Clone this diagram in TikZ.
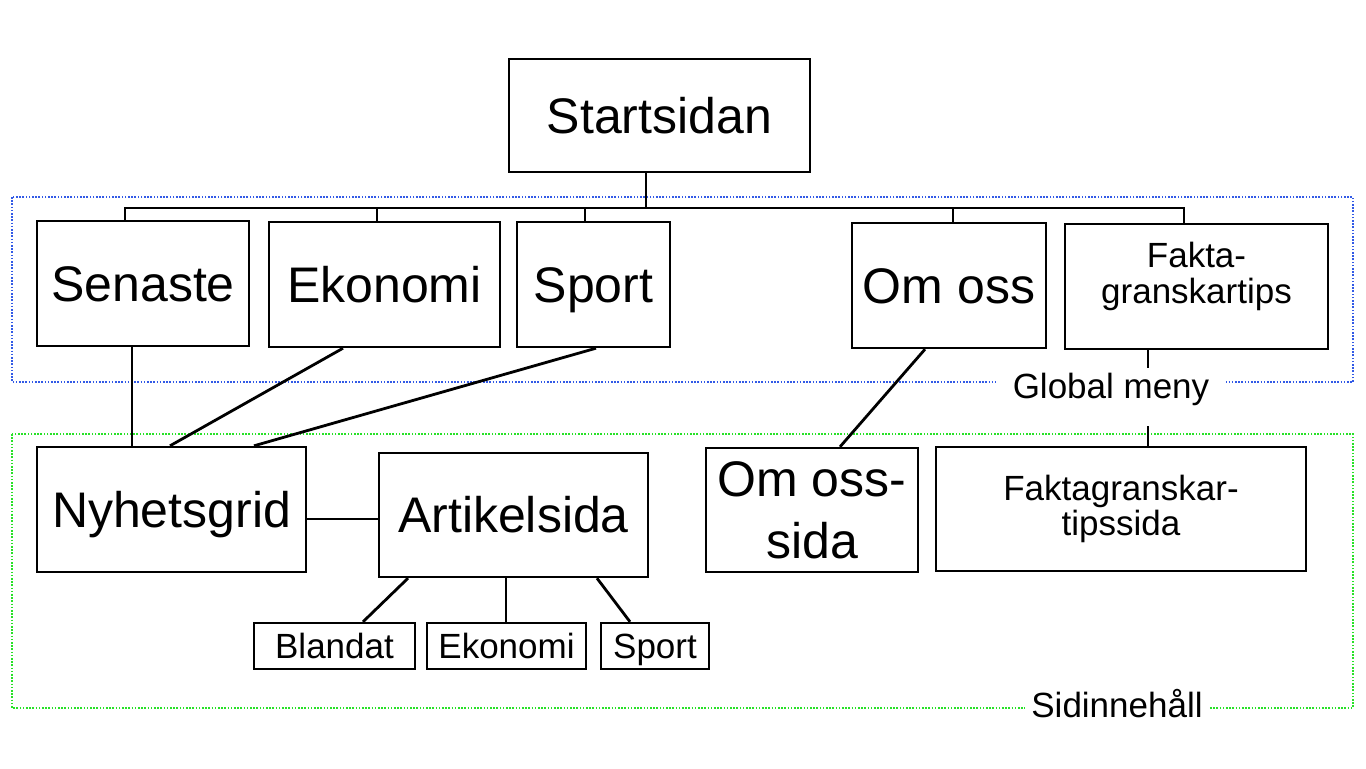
\documentclass[tikz,border=0pt]{standalone}
\usepackage{fontspec}
\setmainfont{Liberation Sans}
\definecolor{menuBlue}{RGB}{50,90,230}
\definecolor{contentGreen}{RGB}{40,225,40}

\begin{document}
\begin{tikzpicture}
[x=0.5pt, y=-0.5pt,
  bigBox/.style={shape=rectangle,draw,line width=1.2pt,inner sep=0pt,align=center,%
    font=\fontsize{25}{31}\selectfont},
  midBox/.style={shape=rectangle,draw,line width=1.2pt,inner sep=0pt,align=center,%
    font=\fontsize{17.5}{17.5}\selectfont},
  bigCap/.style={text height=17.9pt,text depth=0pt},
  midCap/.style={text height=12.5pt,text depth=0pt},
  lineDecorate/.style={-,line width=1.4pt},
  frameDecorate/.style={line width=0.8pt,dash pattern=on 0.8pt off 0.8pt}]
\useasboundingbox (0,0) rectangle (1366,768);
%% frames
\draw[frameDecorate,menuBlue] (12,197) rectangle (1353,382);
\draw[frameDecorate,contentGreen] (12,434) rectangle (1353,708);
%% pages
\foreach \nodename/\x/\y/\w/\h/\txt in {start/659.5/115.5/150.5/56.5/Startsidan,
  senaste/143/283.5/106/62.5/Senaste, ekonomi/384.5/284.5/115.5/62.5/Ekonomi,
  sport/593.5/284.5/76.5/62.5/Sport, omoss/949/285.5/97/62.5/Om oss,
  nyhet/171.5/509.5/134.5/62.5/Nyhetsgrid, artikel/513.5/515/134.5/62/Artikelsida}
{
  \node (\nodename) at (\x,\y) [bigBox,bigCap,minimum width=\w pt,minimum height=\h pt] {\txt};
}
\node (omosssida) at (812,510) [bigBox,minimum width=106pt,minimum height=62pt] {Om oss-\\sida};
\node (fakta) at (1196.5,286.5) [midBox,font=\fontsize{17.5}{18}\selectfont,text height=20.2pt,%
  text depth=3.7pt,minimum width=131.5pt,minimum height=62.5pt] {Fakta-\\granskartips};
\node (faktasida) at (1121,509) [midBox,minimum width=185pt,minimum height=62pt] {Faktagranskar-\\tipssida};
%% sections
\foreach \nodename/\x/\w/\txt in {blandat/334.5/80.5/Blandat, ekonomisub/506.5/79.5/Ekonomi,
  sportsub/655/54/Sport}
{
  \node (\nodename) at (\x,646) [midBox,midCap,minimum width=\w pt,minimum height=23pt] {\txt};
}
%% menu bar
\coordinate (trunk) at (646,208);
\draw[lineDecorate] (start.south -| trunk) -- (trunk);
\foreach \nodename/\x in {senaste/125, ekonomi/377, sport/585, omoss/953, fakta/1184}
{
  \coordinate (drop\nodename) at (\x,208);
  \draw[lineDecorate] (drop\nodename) -- (drop\nodename |- \nodename.north);
}
\draw[lineDecorate,line cap=rect] (dropsenaste) -- (dropfakta);
%% links
\path
\foreach \startnode/\sx/\endnode/\ex in {senaste/-5.5/nyhet/-19.75, ekonomi/-20.75/nyhet/-0.75,
  sport/1.25/nyhet/41.25, omoss/-12/omosssida/14, fakta/-24.25/faktasida/13.5,
  artikel/-52.75/blandat/14.25, artikel/-3.75/ekonomisub/-0.25, artikel/41.75/sportsub/-12.5}
{
  ([xshift=\sx pt]\startnode.south) edge[lineDecorate] ([xshift=\ex pt]\endnode.north)
};
\draw[lineDecorate] ([yshift=-4.75pt]nyhet.east) -- ([yshift=-2pt]artikel.west);
%% frame labels
\node (globalmeny) at (1111,398) [anchor=base,fill=white,inner xsep=8.5pt,inner ysep=0pt,%
  text height=15pt,text depth=14pt,font=\fontsize{17.5}{17.5}\selectfont] {Global meny};
\node (sidinnehall) at (1117,717) [anchor=base,fill=white,inner xsep=3pt,%
  font=\fontsize{17.5}{17.5}\selectfont] {Sidinnehåll};
\end{tikzpicture}
\end{document}
